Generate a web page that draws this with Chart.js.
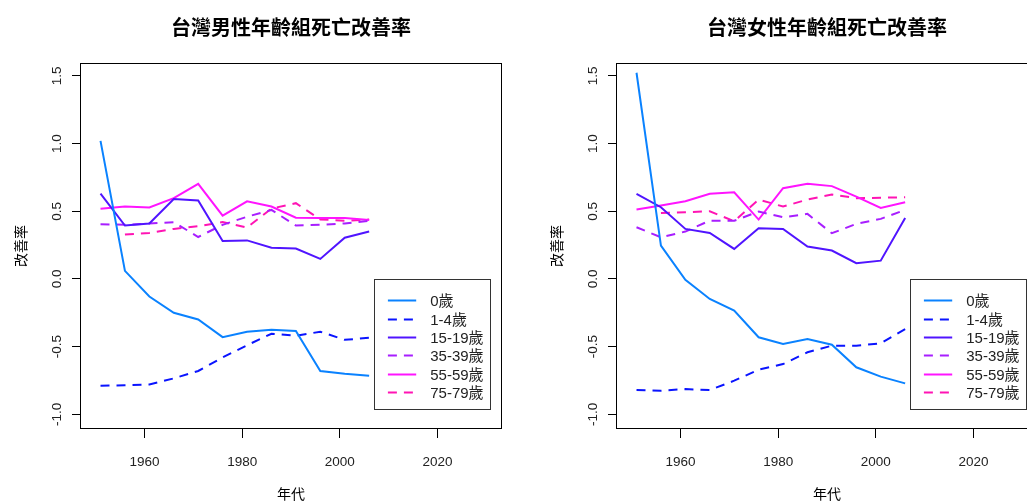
<!DOCTYPE html>
<html>
<head>
<meta charset="utf-8">
<title>台灣年齡組死亡改善率</title>
<script src="https://cdn.jsdelivr.net/npm/chart.js@4.4.1/dist/chart.umd.min.js"></script>
<style>
  html, body { margin: 0; padding: 0; background: #fff; overflow: hidden; width: 1027px; height: 504px; }
  .panel { position: absolute; top: 0; width: 520px; height: 504px; }
  #panelMale { left: 0; }
  #panelFemale { left: 536px; }
</style>
</head>
<body>
<div class="panel" id="panelMale"><canvas id="chartMale" width="520" height="504"></canvas></div>
<div class="panel" id="panelFemale"><canvas id="chartFemale" width="520" height="504"></canvas></div>
<script>
// Five-year periods (x values)
const years = [1951, 1956, 1961, 1966, 1971, 1976, 1981, 1986, 1991, 1996, 2001, 2006];

// Age groups
const ageGroups = ['0歲', '1-4歲', '15-19歲', '35-39歲', '55-59歲', '75-79歲'];

// Male improvement rates by age group
const male0   = [1.02, 0.06, -0.13, -0.25, -0.30, -0.43, -0.39, -0.375, -0.385, -0.68, -0.70, -0.715];
const male1   = [-0.79, -0.785, -0.78, -0.735, -0.68, -0.58, -0.49, -0.405, -0.42, -0.39, -0.45, -0.435];
const male15  = [0.63, 0.395, 0.41, 0.59, 0.58, 0.28, 0.285, 0.23, 0.225, 0.148, 0.305, 0.35];
const male35  = [0.405, 0.40, 0.41, 0.42, 0.31, 0.40, 0.46, 0.51, 0.395, 0.40, 0.41, 0.43];
const male55  = [0.518, 0.535, 0.528, 0.597, 0.703, 0.468, 0.574, 0.535, 0.453, 0.451, 0.451, 0.436];
const male75  = [null, 0.328, 0.34, 0.37, 0.39, 0.42, 0.38, 0.52, 0.56, 0.44, 0.43, 0.44];

// Female improvement rates by age group
const female0  = [1.524, 0.246, -0.007, -0.148, -0.234, -0.431, -0.481, -0.444, -0.486, -0.653, -0.722, -0.772];
const female1  = [-0.821, -0.826, -0.814, -0.821, -0.752, -0.671, -0.629, -0.542, -0.493, -0.493, -0.476, -0.370];
const female15 = [0.629, 0.53, 0.37, 0.34, 0.222, 0.375, 0.37, 0.239, 0.21, 0.116, 0.135, 0.451];
const female35 = [0.382, 0.308, 0.35, 0.431, 0.43, 0.498, 0.456, 0.481, 0.338, 0.407, 0.444, 0.51];
const female55 = [0.513, 0.542, 0.574, 0.629, 0.641, 0.439, 0.671, 0.703, 0.686, 0.609, 0.525, 0.567];
const female75 = [null, 0.488, 0.493, 0.50, 0.427, 0.587, 0.535, 0.587, 0.624, 0.597, 0.60, 0.604];

// Axis tick values
const xTickValues = [1960, 1980, 2000, 2020];
const yTickValues = [-1.0, -0.5, 0.0, 0.5, 1.0, 1.5];

// Line appearance per age group
const lineColors = ['#0a82ff', '#0a14ff', '#5014ff', '#a81eff', '#ff14ff', '#ff14b4'];
const lineDashed = [false, true, false, true, false, true];

const latinFont = "'Liberation Sans', Arial, 'Noto Sans CJK TC', sans-serif";
const cjkFont = "'Noto Sans CJK TC', 'Noto Sans CJK SC', sans-serif";

// Rectangle around the plotting region
const frameBox = {
  id: 'frameBox',
  afterDatasetsDraw(chart) {
    const { ctx, chartArea: a } = chart;
    ctx.save();
    ctx.strokeStyle = '#000';
    ctx.lineWidth = 1;
    ctx.strokeRect(Math.round(a.left) + 0.5, Math.round(a.top) + 0.5,
                   Math.round(a.right - a.left) - 1, Math.round(a.bottom - a.top) - 1);
    ctx.restore();
  }
};

// Boxed legend anchored at a data position inside the plot
const boxedLegend = {
  id: 'boxedLegend',
  afterDatasetsDraw(chart, args, opts) {
    const { ctx, scales: { x, y } } = chart;
    const left = Math.round(x.getPixelForValue(opts.anchorX)) + 0.5;
    const top = Math.round(y.getPixelForValue(opts.anchorY)) + 0.5;
    const w = opts.width, h = opts.height;
    ctx.save();
    ctx.fillStyle = '#fff';
    ctx.fillRect(left, top, w, h);
    ctx.strokeStyle = '#333';
    ctx.lineWidth = 1;
    ctx.strokeRect(left, top, w, h);
    ctx.font = '15px ' + latinFont;
    ctx.textBaseline = 'middle';
    ctx.textAlign = 'left';
    chart.data.datasets.forEach((ds, i) => {
      const cy = Math.round(top + opts.firstRow + i * opts.rowStep) + 0.5;
      ctx.strokeStyle = ds.borderColor;
      ctx.lineWidth = ds.borderWidth;
      ctx.setLineDash(ds.borderDash || []);
      ctx.beginPath();
      ctx.moveTo(left + opts.lineStart, cy);
      ctx.lineTo(left + opts.lineEnd, cy);
      ctx.stroke();
      ctx.setLineDash([]);
      ctx.fillStyle = '#222';
      ctx.fillText(ds.label, left + opts.textStart, cy + 1);
    });
    ctx.restore();
  }
};

function buildChart(canvasId, titleText, seriesList) {
  const datasets = seriesList.map((values, i) => ({
    label: ageGroups[i],
    data: years.map((yr, j) => ({ x: yr, y: values[j] })),
    borderColor: lineColors[i],
    borderWidth: 2,
    borderDash: lineDashed[i] ? [9, 7] : [],
    pointRadius: 0,
    fill: false,
    tension: 0
  }));

  return new Chart(document.getElementById(canvasId), {
    type: 'line',
    data: { datasets },
    options: {
      responsive: false,
      animation: false,
      devicePixelRatio: 1,
      events: [],
      layout: { padding: { left: 0, right: 18, top: 0, bottom: 0 } },
      plugins: {
        legend: { display: false },
        tooltip: { enabled: false },
        title: {
          display: true,
          fullSize: false,
          text: titleText,
          color: '#000',
          font: { family: cjkFont, size: 20, weight: 'bold', lineHeight: 1.2 },
          padding: { top: 15.5, bottom: 23.5 }
        },
        boxedLegend: {
          anchorX: 2007, anchorY: 0.0,
          width: 116, height: 130,
          firstRow: 20.7, rowStep: 18.4,
          lineStart: 13.4, lineEnd: 41.7, textStart: 55.7
        }
      },
      scales: {
        x: {
          type: 'linear',
          min: 1946.8,
          max: 2033.2,
          afterBuildTicks: (s) => { s.ticks = xTickValues.map(v => ({ value: v })); },
          afterFit: (s) => { s.height = 75; },
          border: { display: false },
          grid: { drawOnChartArea: false, drawTicks: true, tickLength: 9, tickColor: '#000', tickWidth: 1 },
          ticks: {
            autoSkip: false, maxRotation: 0, minRotation: 0,
            padding: 16, color: '#222',
            font: { family: latinFont, size: 13.5 },
            callback: (v) => String(v)
          },
          title: {
            display: true, text: '年代', color: '#000',
            font: { family: cjkFont, size: 14, lineHeight: 1.2 },
            padding: { top: 0, bottom: 2 }
          }
        },
        y: {
          type: 'linear',
          min: -1.109,
          max: 1.596,
          afterBuildTicks: (s) => { s.ticks = yTickValues.map(v => ({ value: v })); },
          afterFit: (s) => { s.width = 80; },
          border: { display: false },
          grid: { drawOnChartArea: false, drawTicks: true, tickLength: 8, tickColor: '#000', tickWidth: 1 },
          ticks: {
            autoSkip: false, minRotation: 90, maxRotation: 90,
            crossAlign: 'center',
            padding: 3, color: '#222',
            font: { family: latinFont, size: 13.5 },
            callback: (v) => Number(v).toFixed(1)
          },
          title: {
            display: true, text: '改善率', color: '#000',
            font: { family: cjkFont, size: 14, lineHeight: 1.2 },
            padding: { top: 12, bottom: 0 }
          }
        }
      }
    },
    plugins: [frameBox, boxedLegend]
  });
}

buildChart('chartMale', '台灣男性年齡組死亡改善率', [male0, male1, male15, male35, male55, male75]);
buildChart('chartFemale', '台灣女性年齡組死亡改善率', [female0, female1, female15, female35, female55, female75]);
</script>
</body>
</html>
